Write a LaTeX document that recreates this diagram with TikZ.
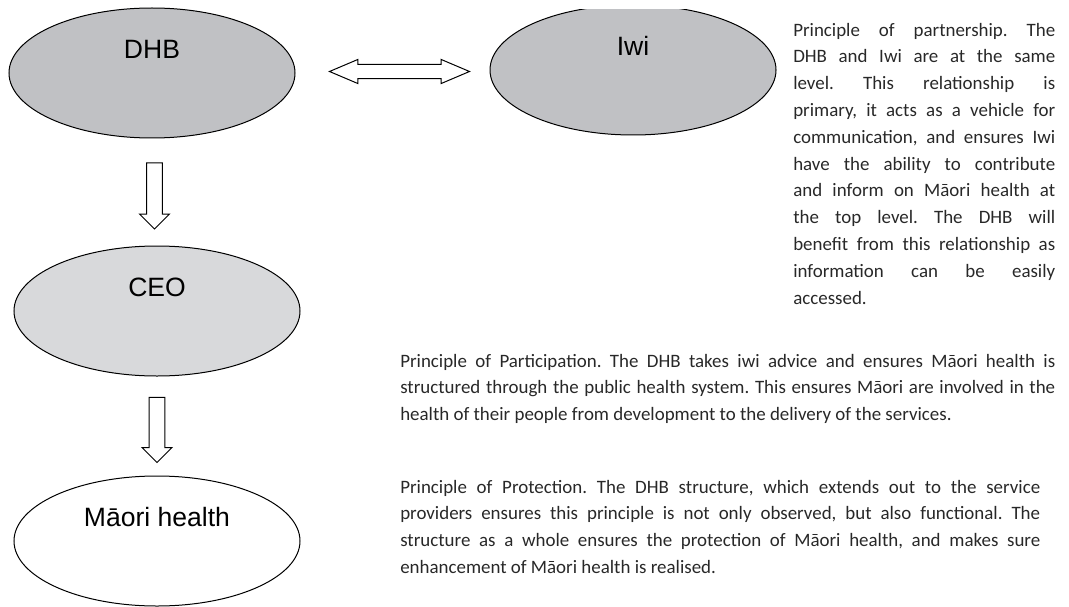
\documentclass[tikz,border=0pt]{standalone}
\usepackage{fontspec}
\setmainfont{Carlito}
\newfontfamily\arialfont{Liberation Sans}
\usepackage{tikz}
\usetikzlibrary{shapes.geometric,shapes.arrows,positioning,calc}

\definecolor{darkbubble}{RGB}{192,193,196}
\definecolor{lightbubble}{RGB}{216,217,219}
\definecolor{inktext}{RGB}{40,40,40}

\frenchspacing
\tolerance=10000
\hyphenpenalty=10000

\begin{document}
\begin{tikzpicture}[
    x=0.75pt, y=-0.75pt,
    bubble/.style={ellipse, draw, line width=0.75pt, minimum width=214.5pt, minimum height=97.5pt, text height=14.25pt, text depth=36pt, font=\arialfont\fontsize{19.9}{24}\selectfont},
    downarrow/.style={single arrow, draw, fill=white, line width=0.75pt, inner sep=5.6pt, minimum height=49.5pt, single arrow head extend=5.25pt, shape border rotate=270},
    sidearrow/.style={double arrow, draw, fill=white, line width=0.75pt, inner sep=4.9pt, minimum height=105pt, double arrow head extend=3.75pt, double arrow tip angle=46},
    para/.style={anchor=north west, inner sep=0pt, align=justify, text=inktext, font=\fontsize{14.2}{20.1}\selectfont}
]
    \useasboundingbox (0,0) rectangle (1069,606);

    \node[bubble, fill=darkbubble] (dhb) at (152,73) {DHB};
    \node[bubble, fill=lightbubble, below=80.25pt of dhb, xshift=3.75pt] (ceo) {CEO};
    \node[bubble, fill=white, below=74.25pt of ceo] (maori) {Māori health};
    \begin{scope}
        \clip (470,10) rectangle (800,150);
        \node[bubble, fill=darkbubble, right=145.5pt of dhb, yshift=2.25pt] (iwi) {Iwi};
    \end{scope}

    \node[sidearrow, xshift=5.25pt] (link) at ($(dhb.east)!0.5!(iwi.west)$) {};
    \node[downarrow] (flowa) at ($(dhb.south)!0.5!(ceo.north)$) {};
    \node[downarrow, minimum height=48.75pt] (flowb) at ($(ceo.south)!0.5!(maori.north)$) {};

    \node[para, text width=196.5pt] (partnership) at (793,17) {\strut Principle of partnership. The\linebreak
        DHB and Iwi are at the same\linebreak
        level. This relationship is\linebreak
        primary, it acts as a vehicle for\linebreak
        communication, and ensures Iwi\linebreak
        have the ability to contribute\linebreak
        and inform on Māori health at\linebreak
        the top level. The DHB will\linebreak
        benefit from this relationship as\linebreak
        information can be easily\linebreak
        accessed.};
    \node[para, text width=491.25pt] (participation) at (400,348) {\strut Principle of Participation. The DHB takes iwi advice and ensures Māori health is\linebreak
        structured through the public health system. This ensures Māori are involved in the\linebreak
        health of their people from development to the delivery of the services.};
    \node[para, text width=480pt] (protection) at (400,474) {\strut Principle of Protection. The DHB structure, which extends out to the service\linebreak
        providers ensures this principle is not only observed, but also functional. The\linebreak
        structure as a whole ensures the protection of Māori health, and makes sure\linebreak
        enhancement of Māori health is realised.};
\end{tikzpicture}
\end{document}
